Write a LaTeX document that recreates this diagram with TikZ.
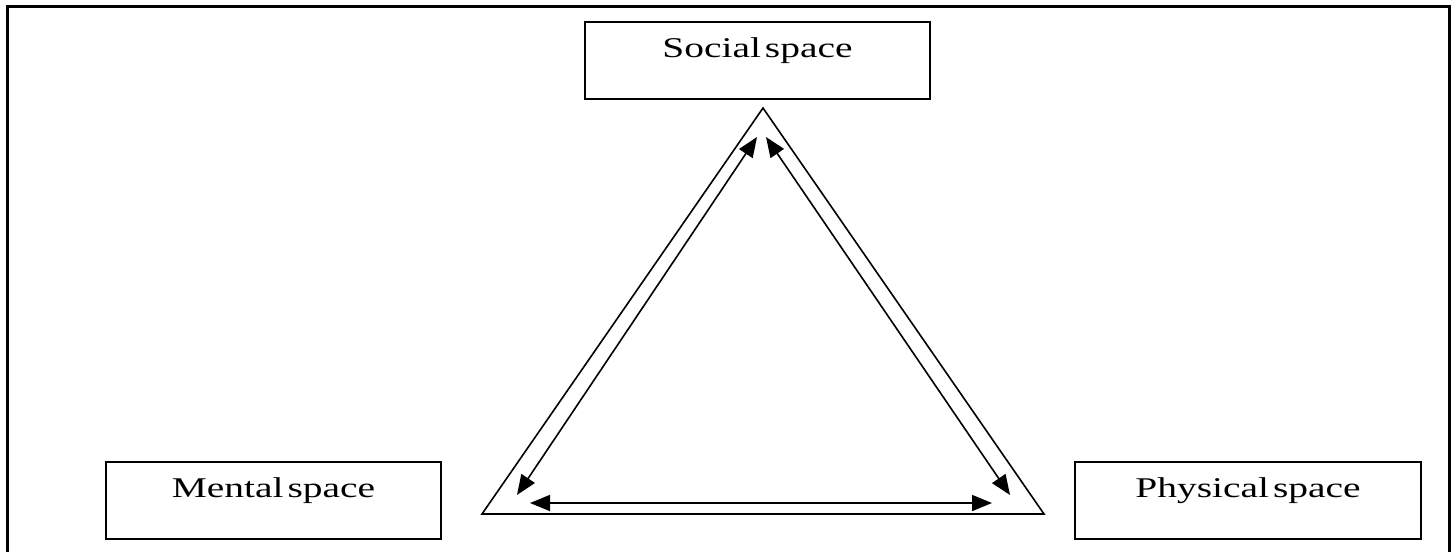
\documentclass[tikz,border=0pt]{standalone}
\usepackage{fontspec}
\setmainfont{Liberation Serif}[FakeStretch=1.38, WordSpace=0.4]
\usetikzlibrary{arrows.meta}

\tikzset{
  spacebox/.style={draw, line width=0.9pt, rectangle, inner sep=0pt,
    minimum width=172.5pt, text height=17.5pt, text depth=21pt,
    font=\fontsize{14.3}{17}\selectfont},
  flow/.style={line width=0.8pt, {Triangle[length=10pt,width=8pt]}-{Triangle[length=10pt,width=8pt]}}
}

\begin{document}
\begin{tikzpicture}[x=0.5pt, y=-0.5pt]
    \useasboundingbox (0, 0) rectangle (1452, 552);

    % Cadre
    \draw[line width=1.5pt] (7, 552) -- (7, 6) -- (1449, 6) -- (1449, 552);

    % Espaces
    \node[spacebox] (social) at (757.5, 60.5) {Social space};
    \node[spacebox, minimum width=167.5pt] (mental) at (273.5, 500.5) {Mental space};
    \node[spacebox, minimum width=173pt] (physical) at (1248, 500.5) {Physical space};

    % Triangle
    \coordinate (top) at (763, 108);
    \coordinate (left) at (482, 514);
    \coordinate (right) at (1044, 514);
    \draw[line width=0.8pt, line join=miter] (top) -- (left) -- (right) -- cycle;

    % Relations
    \coordinate (s1) at (757, 137);
    \coordinate (s2) at (766, 137);
    \coordinate (m1) at (517, 495);
    \coordinate (m2) at (530, 503);
    \coordinate (p1) at (1010, 495);
    \coordinate (p2) at (992, 503);
    \draw[flow] (s1) -- (m1);
    \draw[flow] (s2) -- (p1);
    \draw[flow] (m2) -- (p2);

\end{tikzpicture}
\end{document}
